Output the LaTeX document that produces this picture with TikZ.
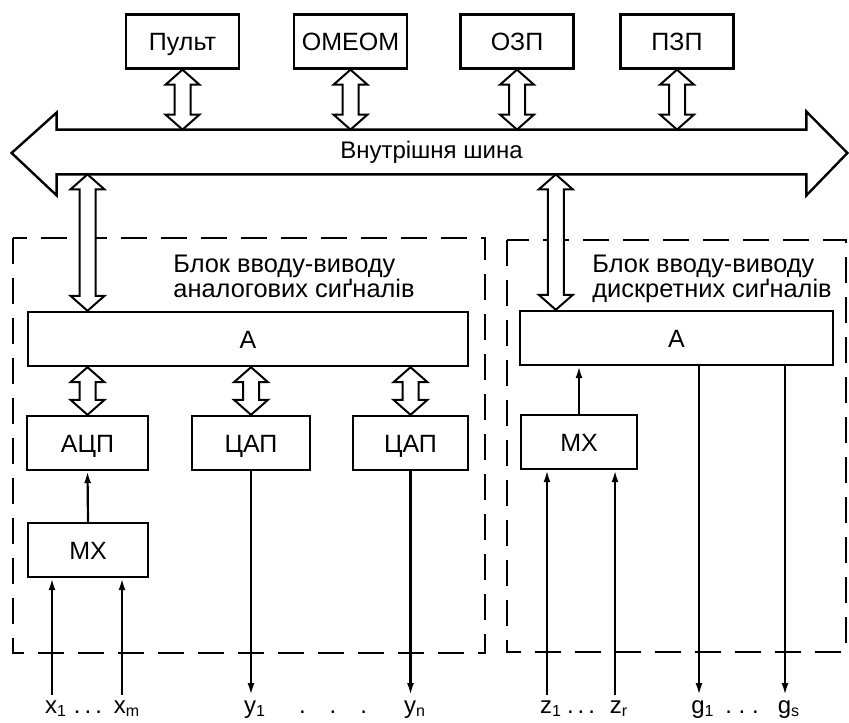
\documentclass[tikz,border=0pt]{standalone}
\usepackage{fontspec}
\setmainfont{Liberation Sans}
\usetikzlibrary{arrows.meta,calc}

% hollow two-way arrow between a point above (#1) and a point below (#2)
\newcommand{\twoway}[2]{%
  \draw[fill=white, line width=1pt, line join=miter] let \p1=#1, \p2=#2 in
    (\x1,\y1) -- (\x1+8.5pt,\y1-7.5pt) -- (\x1+4pt,\y1-7.5pt) -- (\x1+4pt,\y2+7.5pt)
    -- (\x1+8.5pt,\y2+7.5pt) -- (\x1,\y2) -- (\x1-8.5pt,\y2+7.5pt) -- (\x1-4pt,\y2+7.5pt)
    -- (\x1-4pt,\y1-7.5pt) -- (\x1-8.5pt,\y1-7.5pt) -- cycle;}

\begin{document}
\begin{tikzpicture}[
    x=0.5pt, y=-0.5pt,
    font=\fontsize{12.5}{14}\selectfont,
    box/.style={draw, line width=1.2pt, minimum height=27pt, inner sep=1pt, text height=9pt, text depth=0pt},
    frame/.style={line width=0.9pt, dash pattern=on 13pt off 7pt},
    title/.style={anchor=north west, align=left, inner sep=0pt, font=\fontsize{12.7}{12.5}\selectfont},
    sig/.style={-{Latex[length=6pt, width=3.5pt]}, line width=1.1pt},
    lbl/.style={anchor=base, inner sep=0pt, font=\fontsize{12}{14}\selectfont}
]
\useasboundingbox (0,0) rectangle (849,722);

% peripheral units
\node[box, minimum width=56.5pt] (pult) at (182.5,41.5) {Пульт};
\node[box, minimum width=56.5pt] (omeom) at (350.5,41.5) {ОМЕОМ};
\node[box, minimum width=56.5pt] (ozp) at (517,41.5) {ОЗП};
\node[box, minimum width=56.5pt] (pzp) at (677,41.5) {ПЗП};

% internal bus
\node[minimum width=374.5pt, minimum height=22pt, inner sep=0pt, font=\fontsize{12}{14}\selectfont] (bus) at (431.5,152) {Внутрішня шина};
\draw[line width=1.2pt, line join=miter] (bus.north west) -- (bus.north east) -- ++(0,-18)
  -- ($(bus.east)+(41,1)$) -- ($(bus.south east)+(0,21)$) -- (bus.south east)
  -- (bus.south west) -- ++(0,21) -- ($(bus.west)+(-45,1)$) -- ($(bus.north west)+(0,-17)$) -- cycle;

% I/O blocks
\draw[frame] (13,238) rectangle (485,653);
\draw[frame] (507,240) rectangle (846,652);
\node[title] (atitle) at (173,255) {Блок вводу-виводу\\аналогових сиґналів};
\node[title] (dtitle) at (592,255) {Блок вводу-виводу\\дискретних сиґналів};

% analog block
\node[box, minimum width=220pt] (ain) at (248,339) {А};
\node[box, minimum width=60.5pt] (adc) at (87.5,443) {АЦП};
\node[box, minimum width=59pt] (dac1) at (251,443) {ЦАП};
\node[box, minimum width=57.5pt] (dac2) at (410.5,443) {ЦАП};
\node[box, minimum width=60pt] (mxa) at (88,550) {МХ};

% discrete block
\node[box, minimum width=156.5pt] (din) at (676.5,338) {А};
\node[box, minimum width=58pt] (mxd) at (579,442) {МХ};

% bus links
\twoway{(pult.south)}{(pult |- bus.north)}
\twoway{(omeom.south)}{(omeom |- bus.north)}
\twoway{(ozp.south)}{(ozp |- bus.north)}
\twoway{(pzp.south)}{(pzp |- bus.north)}
\twoway{(adc |- bus.south)}{(adc |- ain.north)}
\coordinate (dtap) at ([xshift=18.5pt]din.north west);
\twoway{(dtap |- bus.south)}{(dtap)}

% inside analog block
\twoway{(adc |- ain.south)}{(adc.north)}
\twoway{(dac1 |- ain.south)}{(dac1.north)}
\twoway{(dac2 |- ain.south)}{(dac2.north)}
\draw[sig] (mxa.north) -- (adc.south);
\draw[sig] (mxd.north) -- (mxd |- din.south);

% inputs and outputs
\coordinate (bot) at (0,695);
\coordinate (x1) at (52,695);
\coordinate (xm) at (122,695);
\coordinate (z1) at (547,695);
\coordinate (zr) at (615,695);
\coordinate (g1) at (699,695);
\coordinate (gs) at (785,695);
\draw[sig] (x1) -- (x1 |- mxa.south);
\draw[sig] (xm) -- (xm |- mxa.south);
\draw[sig] (dac1.south) -- (dac1.south |- bot);
\draw[sig] (dac2.south) -- (dac2.south |- bot);
\draw[sig] (z1) -- (z1 |- mxd.south);
\draw[sig] (zr) -- (zr |- mxd.south);
\draw[sig] (g1 |- din.south) -- (g1);
\draw[sig] (gs |- din.south) -- (gs);

% signal names
\node[lbl] (xl1) at (56,713) {x\textsubscript{1}};
\node[lbl] (xdots) at (88,713) {.\,.\,.};
\node[lbl] (xlm) at (127,713) {x\textsubscript{m}};
\node[lbl] (yl1) at (255,713) {y\textsubscript{1}};
\node[lbl] (ydots) at (333,713) {.\quad.\quad.};
\node[lbl] (yln) at (415,713) {y\textsubscript{n}};
\node[lbl] (zl1) at (551,713) {z\textsubscript{1}};
\node[lbl] (zdots) at (581,713) {.\,.\,.};
\node[lbl] (zlr) at (619,713) {z\textsubscript{r}};
\node[lbl] (gl1) at (703,713) {g\textsubscript{1}};
\node[lbl] (gdots) at (742,713) {.\;.\;.};
\node[lbl] (gls) at (789,713) {g\textsubscript{s}};

\end{tikzpicture}
\end{document}
